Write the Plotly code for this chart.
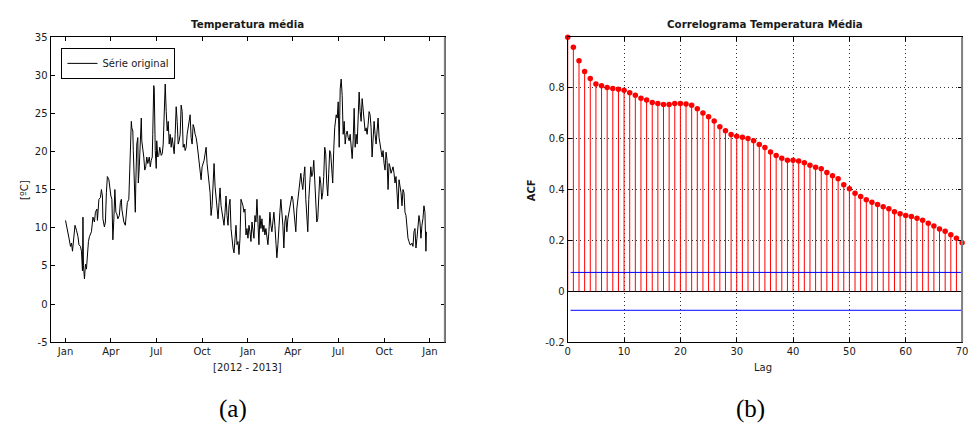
import pandas as pd
import plotly.graph_objects as go

# ---------------- Left panel: daily mean temperature ----------------
start_date = "2012-01-01"
day_offset = [
    0, 2, 5, 7, 10, 12, 14, 17, 19, 22, 25, 27, 30, 32, 34, 35, 36, 38, 40, 42,
    44, 46, 48, 52, 55, 58, 60, 63, 64, 67, 70, 72, 74, 75, 78, 80, 82, 84, 87, 89,
    91, 93, 95, 97, 99, 101, 103, 105, 108, 110, 112, 113, 115, 117, 120, 122, 124, 127, 129, 130,
    132, 133, 135, 136, 137, 140, 141, 143, 145, 146, 148, 150, 152, 153, 155, 157, 159, 161, 163, 165,
    168, 170, 172, 174, 175, 177, 178, 180, 182,
    183, 185, 187, 189, 192, 194, 196, 198, 200, 202, 204, 206, 208, 210, 212, 214, 216, 218, 220, 222,
    224, 226, 228, 230, 232, 234, 236, 238, 240, 242, 244, 246, 248, 250, 252, 254, 256, 258, 260, 262,
    264, 266, 268, 270, 272, 274, 276, 278, 280, 282, 284, 286, 288, 290, 292, 294, 296, 298, 300, 302,
    304, 306, 308, 310, 312, 314, 316, 318, 320, 322, 324, 326, 328, 330, 332, 334, 336, 338, 340, 342,
    344, 346, 348, 350, 352, 354, 356, 358,
    360, 362, 364, 366, 368, 370, 372, 374, 376, 378, 380, 382, 384, 386, 388, 390, 392, 394, 396, 398,
    400, 402, 404, 406, 408, 410, 412, 414, 416, 418, 420, 422, 424, 426, 428, 430, 432, 434, 436, 438,
    440, 442, 444, 446, 448, 450, 452, 454, 456, 458, 460, 462, 464, 466, 468, 470, 472, 474, 476, 478,
    480, 482, 484, 486, 488, 490, 492, 494, 496, 498, 500, 502, 504, 506, 508, 510, 512, 514, 516, 518,
    520, 522, 524, 526, 528, 530, 532, 534, 536, 538, 540,
    543, 545, 547, 549, 551, 553, 555, 557, 559, 561, 563, 565, 567, 569, 571, 573, 575, 577, 579, 581,
    583, 585, 587, 589, 591, 593, 595, 597, 599, 601, 603, 605, 607, 609, 611, 613, 615, 617, 619, 621,
    623, 625, 627, 629, 631, 633, 635, 637, 639, 641, 643, 645, 647, 649, 651, 653, 655, 657, 659, 661,
    663, 665, 667, 669, 671, 673, 675, 677, 679, 681, 683, 685, 687, 689, 691, 693, 695, 697, 699, 701,
    703, 705, 707, 709, 711, 713, 715, 717, 719, 721, 723, 724,
]
temperature = [
    10.97, 10.33, 9.69, 8.63, 7.56, 7.99, 6.93, 8.63, 10.33, 9.69,
    8.84, 7.78, 7.56, 6.93, 4.37, 11.40, 5.01, 3.30, 5.22, 4.58,
    6.50, 8.20, 8.84, 9.48, 11.40, 10.76, 12.04, 12.46, 10.97, 13.74,
    13.95, 15.02, 14.17, 11.18, 10.12, 10.76, 14.59, 16.72, 16.30, 15.02,
    14.17, 13.74, 8.42, 11.18, 15.02, 12.04, 11.82, 11.18, 11.61, 13.31,
    13.74, 12.46, 11.82, 10.76, 10.33, 12.04, 13.31, 13.74, 18.85, 22.05,
    23.96, 23.11, 22.69, 20.13, 18.00, 12.04, 15.87, 20.98, 21.83, 15.87,
    18.00, 20.98, 24.39, 21.41, 20.56, 19.28, 17.57, 18.00, 19.28, 18.43,
    19.28, 18.00, 18.85, 19.28, 22.26, 28.65, 28.22, 20.13, 17.79,
    21.41, 19.28, 19.49, 20.56,
    19.49, 19.71, 20.98, 26.95, 28.86, 25.24, 22.69, 23.96, 20.98, 22.26,
    20.56, 21.83, 20.98, 19.71, 22.26, 25.88, 23.96, 20.98, 21.41, 22.26,
    26.09, 25.24, 20.56, 20.98, 20.13, 20.56, 22.26, 23.11, 23.96, 24.82,
    21.83, 20.98, 23.54, 23.11, 22.26, 21.83, 20.98, 19.71, 18.43, 16.72,
    16.30, 18.00, 18.43, 18.85, 19.71, 20.56, 18.43, 16.72, 15.87, 14.59,
    11.61, 12.89, 16.30, 18.43, 15.44, 13.74, 12.46, 11.18, 13.31, 15.23,
    12.89, 12.04, 10.76, 10.33, 12.04, 14.17, 11.61, 10.33, 12.89, 13.74,
    9.91, 8.20, 7.35, 6.71, 8.63, 10.33, 7.78, 8.20, 6.50, 8.63,
    13.74, 13.31, 12.89, 12.04,
    12.46, 9.06, 9.91, 8.63, 10.33, 9.48, 8.20, 10.76, 9.48, 8.63,
    11.61, 10.76, 13.74, 11.18, 7.78, 11.61, 9.91, 11.18, 9.48, 10.33,
    9.06, 9.91, 8.20, 7.78, 9.48, 12.04, 10.33, 9.48, 10.76, 12.04,
    10.33, 7.35, 6.07, 7.78, 10.76, 12.04, 13.74, 12.46, 10.33, 7.35,
    10.76, 11.61, 9.48, 11.18, 12.04, 12.89, 13.31, 14.17, 13.74, 12.46,
    10.76, 9.48, 12.46, 13.74, 14.59, 16.30, 17.15, 15.87, 15.02, 16.72,
    18.00, 13.74, 10.33, 9.48, 13.74, 16.72, 18.00, 16.72, 17.15, 18.85,
    15.87, 12.04, 10.76, 11.18, 14.59, 16.72, 15.87, 13.74, 14.59, 16.72,
    20.56, 19.71, 15.87, 14.17, 17.15, 20.13, 19.71, 18.00, 15.87, 20.13,
    23.11,
    24.82, 24.39, 26.52, 20.56, 28.22, 29.50, 27.37, 22.26, 23.96, 20.98,
    22.26, 22.69, 21.83, 21.41, 22.26, 20.98, 19.07, 21.41, 25.67, 20.56,
    22.26, 20.98, 24.82, 27.80, 25.24, 23.96, 26.95, 25.24, 23.96, 22.69,
    23.11, 22.26, 23.54, 25.24, 24.82, 23.11, 19.28, 21.41, 23.96, 22.26,
    20.98, 22.69, 24.39, 21.83, 20.56, 20.13, 19.28, 20.13, 18.43, 17.57,
    19.92, 18.85, 15.02, 18.43, 18.00, 17.15, 17.57, 18.00, 17.15, 15.87,
    16.72, 13.74, 12.46, 16.30, 15.44, 14.59, 12.89, 15.02, 14.59, 12.04,
    11.61, 9.91, 8.63, 8.20, 7.78, 7.78, 7.99, 7.56, 9.48, 9.91,
    7.35, 8.63, 10.33, 11.61, 10.76, 8.63, 10.33, 11.18, 12.89, 12.04,
    6.93, 9.48,
]
assert len(day_offset) == len(temperature), (len(day_offset), len(temperature))

date_ticks = ["2012-01-01", "2012-04-01", "2012-07-01", "2012-10-01", "2013-01-01",
              "2013-04-01", "2013-07-01", "2013-10-01", "2014-01-01"]
date_tick_labels = ["Jan", "Apr", "Jul", "Oct", "Jan", "Apr", "Jul", "Oct", "Jan"]
date_range = ["2011-12-02", "2014-01-31"]
temp_ticks = [-5, 0, 5, 10, 15, 20, 25, 30, 35]
temp_tick_labels = ["-5", "0", "5", "10", "15", "20", "25", "30", "35"]

# ---------------- Right panel: autocorrelation ----------------
lags = list(range(71))
acf = [
    1.000, 0.960, 0.907, 0.865, 0.837, 0.816, 0.809, 0.802, 0.798, 0.795,
    0.791, 0.781, 0.771, 0.760, 0.753, 0.743, 0.739, 0.735, 0.735, 0.739,
    0.739, 0.737, 0.732, 0.718, 0.702, 0.687, 0.670, 0.648, 0.632, 0.617,
    0.610, 0.606, 0.601, 0.592, 0.578, 0.566, 0.548, 0.534, 0.524, 0.516,
    0.516, 0.513, 0.506, 0.496, 0.488, 0.482, 0.468, 0.455, 0.443, 0.419,
    0.404, 0.386, 0.373, 0.360, 0.351, 0.342, 0.333, 0.325, 0.313, 0.305,
    0.298, 0.294, 0.288, 0.280, 0.268, 0.257, 0.245, 0.236, 0.223, 0.209,
    0.191,
]
conf_bound = 0.0745
bound_lags = [0.5, 70]
acf_ticks = [-0.2, 0, 0.2, 0.4, 0.6, 0.8]
acf_tick_labels = ["-0.2", "0", "0.2", "0.4", "0.6", "0.8"]
lag_ticks = [0, 10, 20, 30, 40, 50, 60, 70]

dates = pd.Timestamp(start_date) + pd.to_timedelta(day_offset, unit="D")

W, H = 975, 432
FONT = "DejaVu Sans, Verdana, sans-serif"
TXT = "#1a1a1a"


def px_x(p):
    return p / W


def px_y(p):
    return 1 - p / H


fig = go.Figure()

fig.add_trace(go.Scatter(
    x=dates, y=temperature, mode="lines", name="Série original",
    line=dict(color="black", width=1), xaxis="x", yaxis="y", showlegend=True,
))

fig.add_trace(go.Scatter(
    x=lags, y=acf, mode="markers", xaxis="x2", yaxis="y2", showlegend=False,
    marker=dict(color="red", size=5.5, line=dict(width=0)),
    error_y=dict(type="data", symmetric=False, array=[0] * len(acf), arrayminus=acf,
                 color="red", thickness=1, width=0),
    cliponaxis=False,
))
fig.add_trace(go.Scatter(
    x=bound_lags, y=[conf_bound, conf_bound], mode="lines", xaxis="x2", yaxis="y2",
    showlegend=False, line=dict(color="#0000ff", width=1),
))
fig.add_trace(go.Scatter(
    x=bound_lags, y=[-conf_bound, -conf_bound], mode="lines", xaxis="x2", yaxis="y2",
    showlegend=False, line=dict(color="#0000ff", width=1),
))

axis_common = dict(showline=True, linecolor="black", linewidth=1, mirror="ticks",
                   ticks="inside", ticklen=4, tickcolor="black", tickwidth=1,
                   ticklabeloverflow="allow",
                   tickfont=dict(family=FONT, size=10, color=TXT), fixedrange=True)

GRID = dict(showgrid=True, gridcolor="#333333", griddash="1px,3px", gridwidth=1)

fig.update_layout(
    width=W, height=H, margin=dict(l=0, r=0, t=0, b=0),
    paper_bgcolor="white", plot_bgcolor="white",
    font=dict(family=FONT, size=10, color=TXT),
    xaxis=dict(domain=[px_x(48), px_x(446)], anchor="y", type="date", range=date_range,
               tickmode="array", tickvals=date_ticks, ticktext=date_tick_labels,
               showgrid=False, zeroline=False, **axis_common),
    yaxis=dict(domain=[px_y(346), px_y(33)], anchor="x", range=[-5, 35],
               tickmode="array", tickvals=temp_ticks, ticktext=temp_tick_labels,
               showgrid=False, zeroline=False, **axis_common),
    xaxis2=dict(domain=[px_x(570), px_x(968)], anchor="y2", range=[0, 70],
                tickmode="array", tickvals=lag_ticks, zeroline=False,
                **GRID, **axis_common),
    yaxis2=dict(domain=[px_y(346), px_y(33)], anchor="x2", range=[-0.2, 1.0],
                tickmode="array", tickvals=acf_ticks, ticktext=acf_tick_labels,
                zeroline=True, zerolinecolor="black", zerolinewidth=1,
                **GRID, **axis_common),
    legend=dict(x=px_x(59), y=px_y(44), xanchor="left", yanchor="top",
                bordercolor="black", borderwidth=1, bgcolor="white",
                font=dict(family=FONT, size=10, color=TXT),
                itemwidth=30, tracegroupgap=0),
    showlegend=True,
)

# grey right-hand border of each axes box (as in the reference)
for xr, yr in (("x domain", "y domain"), ("x2 domain", "y2 domain")):
    fig.add_shape(type="line", xref=xr, yref=yr, x0=1, x1=1, y0=0, y1=1,
                  line=dict(color="#808080", width=2), layer="above")

annotations = [
    dict(text="<b>Temperatura média</b>", x=px_x(247), y=px_y(20), size=10.3),
    dict(text="<b>Correlograma Temperatura Média</b>", x=px_x(769), y=px_y(20), size=10.3),
    dict(text="[2012 - 2013]", x=px_x(247), y=px_y(372), size=10),
    dict(text="Lag", x=px_x(767), y=px_y(372), size=10),
]
for a in annotations:
    fig.add_annotation(text=a["text"], x=a["x"], y=a["y"], xref="paper", yref="paper",
                       xanchor="center", yanchor="middle", showarrow=False,
                       font=dict(family=FONT, size=a["size"], color=TXT))
fig.add_annotation(text="[ºC]", x=px_x(21), y=px_y(190), xref="paper", yref="paper",
                   textangle=-90, showarrow=False, xanchor="center", yanchor="middle",
                   font=dict(family=FONT, size=10, color=TXT))
fig.add_annotation(text="<b>ACF</b>", x=px_x(533), y=px_y(190), xref="paper", yref="paper",
                   textangle=-90, showarrow=False, xanchor="center", yanchor="middle",
                   font=dict(family=FONT, size=10, color=TXT))
for label, cx in (("(a)", 232), ("(b)", 754)):
    fig.add_annotation(text=label, x=px_x(cx), y=px_y(415), xref="paper", yref="paper",
                       showarrow=False, xanchor="center", yanchor="middle",
                       font=dict(family="Liberation Serif, DejaVu Serif, serif", size=25,
                                 color="black"))

fig.write_html("out.html",
               config={"displayModeBar": False, "staticPlot": True},
               post_script="document.body.style.margin='0';document.body.style.padding='0';")
